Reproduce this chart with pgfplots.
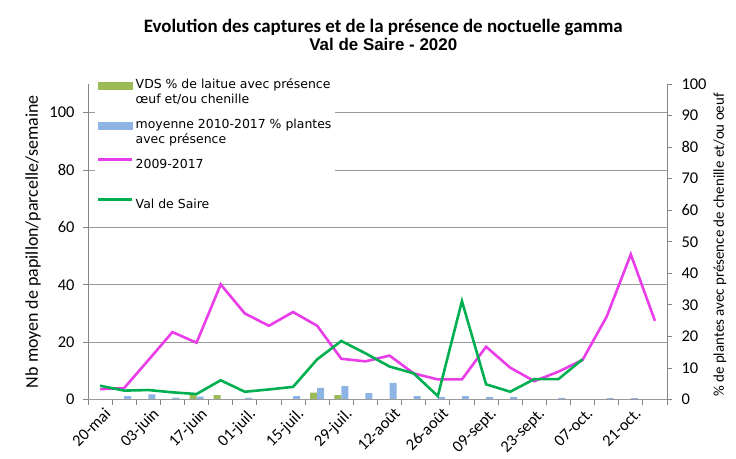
\documentclass[border=0pt]{standalone}
\usepackage{pgfplots}
\pgfplotsset{compat=1.18}
\usepackage{fontspec}
\setmainfont{Carlito}
\newfontfamily\legfont{DejaVu Sans}
\newfontfamily\arialfont{Liberation Sans}
\definecolor{vdsgreen}{HTML}{9BBB59}
\definecolor{moyblue}{HTML}{8DB4E2}
\definecolor{mag}{HTML}{E83DE8}
\definecolor{vgreen}{HTML}{00B050}
\definecolor{axgray}{HTML}{868686}
\definecolor{gridgray}{HTML}{9A9A9A}
\begin{document}
\begin{tikzpicture}
\path[use as bounding box] (-88bp,-59.5bp) rectangle (648bp,399.5bp);
% ---------- right axis: bars ----------
\begin{axis}[
  scale only axis, width=579bp, height=315.5bp,
  xmin=-0.5, xmax=23.5, ymin=0, ymax=100,
  axis y line*=right, axis x line*=bottom,
  axis line style={axgray, line width=0.8bp},
  every tick/.style={axgray, line width=0.8bp},
  tick align=outside,
  major tick length=5bp, minor tick length=5bp,
  ytick={0,10,...,100},
  xtick={0,2,...,22},
  xticklabels={20-mai,03-juin,17-juin,01-juil.,15-juil.,29-juil.,12-août,26-août,09-sept.,23-sept.,07-oct.,21-oct.},
  minor xtick={-0.5,0.5,...,23.5},
  major x tick style={draw=none},
  /pgf/number format/assume math mode=true,
  ticklabel style={font=\fontsize{16.5}{16.5}\selectfont, text=black},
  xticklabel style={rotate=45, anchor=north east, inner sep=1bp, xshift=2bp, yshift=-3bp},
  yticklabel style={anchor=west, xshift=6bp},
  ylabel={\% de plantes avec présence de chenille et/ou oeuf},
  ylabel style={at={(axis description cs:1.0915,0.49)}, anchor=center, rotate=0, font=\fontsize{15}{15}\selectfont},
  clip=false,
]
\addplot[ybar, bar width=7bp, bar shift=-3.5bp, fill=vdsgreen, draw=none]
  coordinates {(4,1.6) (5,1.4) (9,2.2) (10,1.4)};
\addplot[ybar, bar width=7bp, bar shift=3.5bp, fill=moyblue, draw=none]
  coordinates {(1,1.1) (2,1.6) (3,0.6) (4,0.9) (6,0.5) (8,1.1) (9,3.7) (10,4.3) (11,2.0) (12,5.3) (13,1.1) (14,0.8) (15,1.1) (16,0.8) (17,0.8) (19,0.5) (21,0.4) (22,0.4)};
\end{axis}
% ---------- left axis: lines ----------
\begin{axis}[
  scale only axis, width=579bp, height=315.5bp,
  xmin=-0.5, xmax=23.5, ymin=0, ymax=110,
  axis y line*=left, axis x line=none,
  axis line style={axgray, line width=0.8bp},
  every tick/.style={axgray, line width=0.8bp},
  tick align=outside, major tick length=5bp,
  ytick={0,20,...,100},
  ymajorgrids, grid style={gridgray, line width=0.8bp},
  /pgf/number format/assume math mode=true,
  ticklabel style={font=\fontsize{16.5}{16.5}\selectfont, text=black},
  yticklabel style={anchor=east, xshift=-5bp},
  ylabel={Nb moyen de papillon/parcelle/semaine},
  ylabel style={at={(axis description cs:-0.095,0.5)}, anchor=center, font=\fontsize{18}{18}\selectfont},
  title={{\bfseries\fontsize{19}{23}\selectfont Evolution des captures et de la présence de noctuelle gamma}\\[2bp]{\arialfont\bfseries\fontsize{17}{23}\selectfont Val de Saire - 2020}},
  title style={at={(axis description cs:0.51,1)}, anchor=south, align=center, inner sep=0pt, yshift=27bp},
  legend style={at={(axis description cs:0.012,1.03)}, anchor=north west, draw=none, fill=white,
    font=\legfont\fontsize{12.5}{15}\selectfont, cells={align=left}, row sep=10bp, inner sep=2bp},
  legend cell align=left,
  clip=false,
]
\addlegendimage{legend image code/.code={\fill[vdsgreen] (0bp,2.5bp) rectangle (34bp,9.5bp);}}
\addlegendentry{VDS \% de laitue avec présence\\œuf et/ou chenille}
\addlegendimage{legend image code/.code={\fill[moyblue] (0bp,2.5bp) rectangle (34bp,9.5bp);}}
\addlegendentry{moyenne 2010-2017 \% plantes\\avec présence}
\addplot[mag, line width=2.6bp, legend image code/.code={\draw[mag, line width=2.6bp] (0bp,5bp) -- (34bp,5bp);}]
  coordinates {(0,3.6) (1,4.0) (2,13.7) (3,23.5) (4,19.8) (5,40.1) (6,30.0) (7,25.7) (8,30.5) (9,25.7) (10,14.2) (11,13.3) (12,15.3) (13,9.1) (14,7.0) (15,7.0) (16,18.4) (17,11.1) (18,6.4) (19,9.7) (20,13.8) (21,28.9) (22,50.6) (23,27.4)};
\addlegendentry{2009-2017}
\addlegendimage{empty legend}
\addlegendentry{}
\addplot[vgreen, line width=2.6bp, legend image code/.code={\draw[vgreen, line width=2.6bp] (0bp,5bp) -- (34bp,5bp);}]
  coordinates {(0,4.8) (1,3.1) (2,3.3) (3,2.5) (4,1.9) (5,6.7) (6,2.7) (7,3.5) (8,4.4) (9,14.0) (10,20.4) (11,16.1) (12,11.5) (13,9.1) (14,1.2) (15,34.3) (16,5.3) (17,2.7) (18,7.1) (19,7.1) (20,14.0)};
\addlegendentry{Val de Saire}
\end{axis}
\end{tikzpicture}
\end{document}
